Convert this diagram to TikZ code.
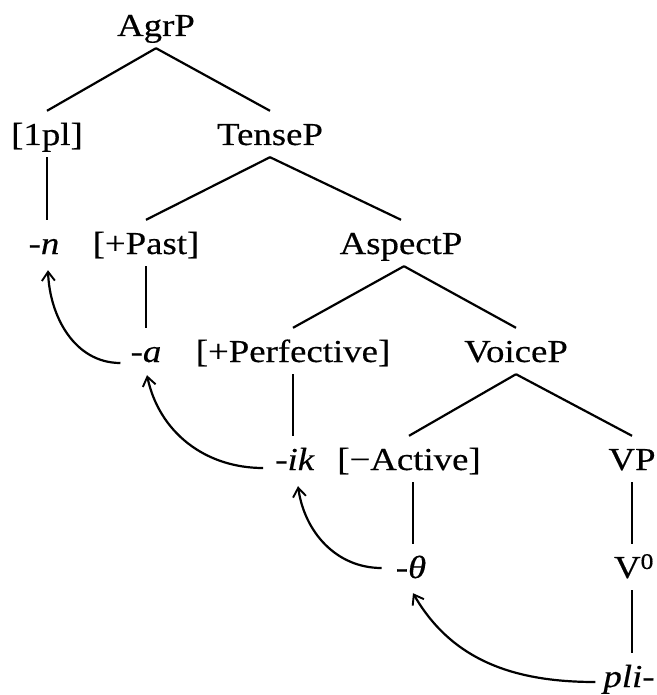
\documentclass[tikz,border=0pt]{standalone}
\usepackage{fontspec}
\setmainfont[FakeStretch=1.15,FakeBold=0.4]{Liberation Serif}
\usetikzlibrary{arrows.meta}
\begin{document}
\begin{tikzpicture}[x=1pt,y=-1pt,
  lab/.style={anchor=base,inner xsep=0pt,inner ysep=8pt,text height=26pt,text depth=4pt,
    font=\fontsize{32}{38}\selectfont},
  edge/.style={line width=2.2pt},
  mv/.style={line width=2.2pt,-{Straight Barb[length=9pt,width=13pt,line width=1.9pt]}}]
\useasboundingbox (0,0) rectangle (656,695);
% row 1
\node[lab] (agrp) at (156,36) {AgrP};
% row 2
\node[lab] (onepl) at (47,145) {[1pl]};
\node[lab] (tensep) at (270,145) {TenseP};
% row 3
\node[lab] (n) at (44,254) {\textit{-n}};
\node[lab] (past) at (146,254) {[+Past]};
\node[lab] (aspectp) at (401,254) {AspectP};
% row 4
\node[lab] (a) at (146,362) {\textit{-a}};
\node[lab] (perf) at (293,362) {[+Perfective]};
\node[lab] (voicep) at (516,362) {VoiceP};
% row 5
\node[lab] (ik) at (295,470) {\textit{-ik}};
\node[lab] (active) at (409,470) {[−Active]};
\node[lab] (vp) at (632,470) {VP};
% row 6
\node[lab] (theta) at (411,578) {\textit{-θ}};
\node[lab] (v0) at (634,578) {V\textsuperscript{0}};
% row 7
\node[lab] (pli) at (629,687) {\textit{pli-}};
% tree edges
\draw[edge] (agrp.south) -- (onepl.north);
\draw[edge] (agrp.south) -- (tensep.north);
\draw[edge] (tensep.south) -- (past.north);
\draw[edge] (tensep.south) -- (aspectp.north);
\draw[edge] ([xshift=3pt]aspectp.south) -- (perf.north);
\draw[edge] ([xshift=3pt]aspectp.south) -- (voicep.north);
\draw[edge] (voicep.south) -- (active.north);
\draw[edge] (voicep.south) -- (vp.north);
% vertical edges
\draw[edge] (onepl.south) -- (onepl.south |- n.north);
\draw[edge] (past.south) -- (past.south |- a.north);
\draw[edge] (perf.south) -- (perf.south |- ik.north);
\draw[edge] ([xshift=4pt]active.south) -- ([xshift=4pt]active.south |- theta.north);
\draw[edge] (vp.south) -- (vp.south |- v0.north);
\draw[edge] (vp.south |- v0.south) -- (vp.south |- pli.north);
% movement arrows
\draw[mv] ([xshift=-10pt,yshift=-1pt]a.base west) to[out=180,in=-88] ([xshift=4pt,yshift=-4pt]n.south);
\draw[mv] ([xshift=-12pt,yshift=2pt]ik.base west) to[out=180,in=-78] ([xshift=1pt,yshift=-1pt]a.south);
\draw[mv] ([xshift=-14pt,yshift=10pt]theta.base west) to[out=180,in=-82] ([xshift=3pt,yshift=-4pt]ik.south);
\draw[mv] ([xshift=-8pt,yshift=5pt]pli.base west) to[out=180,in=-60] ([xshift=2pt,yshift=-3pt]theta.south);
\end{tikzpicture}
\end{document}
